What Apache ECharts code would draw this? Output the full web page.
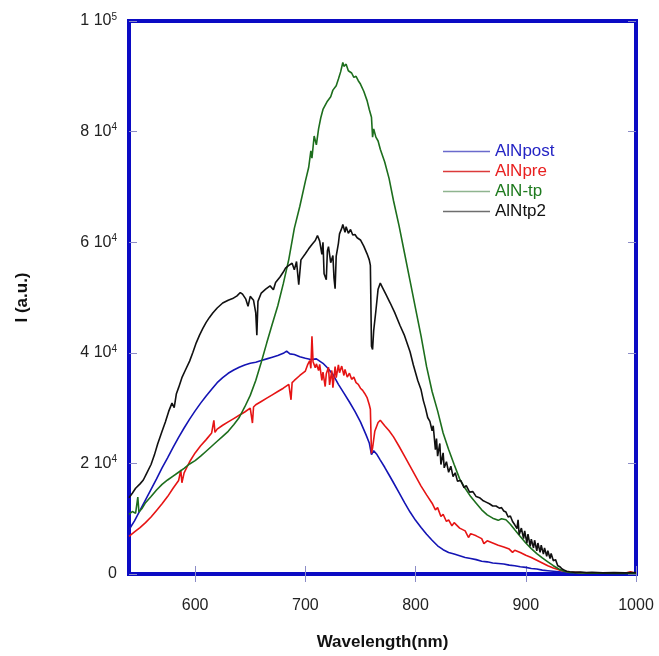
<!DOCTYPE html>
<html>
<head>
<meta charset="utf-8">
<script src="https://cdn.jsdelivr.net/npm/echarts@6/dist/echarts.min.js"></script>
<style>
html,body{margin:0;padding:0;background:#fff;}
#chart{width:659px;height:656px;}
</style>
</head>
<body>
<div id="chart"></div>
<script>
// ---- data (wavelength nm, intensity a.u.) ----
const alnPost = [[540,8000],[545,9600],[550,11500],[555,13400],[560,15300],[565,17200],[570,19200],[575,21000],[580,22900],[585,24700],[590,26400],[595,28000],[600,29500],[605,30900],[610,32200],[615,33400],[620,34600],[625,35500],[630,36300],[635,36900],[640,37400],[645,37800],[650,38100],[655,38300],[660,38600],[665,38900],[670,39200],[675,39500],[680,39900],[683,40300],[686,39800],[690,39700],[695,39300],[700,39000],[705,38800],[710,38900],[713,38500],[716,38100],[720,37300],[725,36100],[730,34300],[735,32700],[740,31100],[745,29400],[750,27500],[755,25200],[758,23700],[760,21600],[762,22300],[765,21600],[768,20600],[772,19300],[776,17900],[780,16500],[785,14700],[790,12900],[795,11200],[800,9700],[805,8400],[810,7200],[815,6100],[820,5100],[825,4400],[830,3900],[835,3600],[840,3300],[845,3000],[850,2800],[855,2600],[860,2300],[865,2200],[870,2000],[875,1900],[880,1800],[885,1600],[890,1500],[895,1300],[900,1200],[905,1000],[910,900],[915,700],[920,600],[925,500],[930,400],[935,300],[940,250],[950,200],[960,150],[970,150],[980,120],[990,100],[1000,100]];

const alnPre = [[540,6800],[545,7600],[550,8400],[555,9300],[560,10300],[565,11500],[570,12700],[575,14000],[580,15500],[585,16900],[587,18800],[588,16500],[590,18300],[595,20300],[600,21900],[605,23200],[610,24300],[615,25500],[617,27800],[618,25600],[620,26200],[625,26900],[630,27500],[635,28100],[640,28700],[645,29300],[650,30000],[652,27300],[653,30200],[655,30600],[660,31200],[665,31800],[670,32400],[675,33000],[680,33600],[685,34300],[687,31500],[688,34600],[690,35000],[695,35900],[700,36700],[702,37800],[704,38600],[705,37200],[706,43000],[707,38400],[709,37300],[710,38000],[712,36800],[713,37900],[715,35000],[716,36500],[718,33900],[719,36200],[721,37400],[722,34200],[724,36800],[725,33700],[727,37500],[728,35500],[730,37800],[731,36400],[733,37600],[735,35900],[736,37000],[738,35600],[740,36300],[742,35200],[744,35600],[746,34600],[748,34300],[750,33600],[752,33200],[754,32600],[756,31900],[758,30600],[759,29800],[760,21800],[761,22800],[763,25800],[766,27400],[768,27800],[772,26800],[776,25900],[780,24800],[785,23100],[790,21300],[795,19500],[800,17700],[805,15900],[810,14300],[815,12800],[818,11600],[820,12000],[823,10400],[825,10800],[828,9500],[830,9800],[833,8700],[835,9300],[840,8300],[845,7800],[848,6600],[850,7300],[855,6900],[860,6400],[862,5500],[865,6000],[870,5600],[875,5200],[880,4900],[885,4500],[888,3900],[890,4300],[895,3900],[900,3400],[905,3000],[910,2500],[915,2000],[920,1500],[925,1100],[930,750],[935,500],[940,350],[950,250],[960,200],[970,200],[980,150],[990,150],[995,400],[996,150],[1000,100]];

const alnTp = [[540,10800],[543,11300],[546,11000],[548,13900],[549,11200],[552,11900],[555,12900],[560,14000],[565,15200],[570,16200],[575,17000],[580,17700],[585,18400],[590,19100],[595,19900],[600,20500],[605,21300],[610,22200],[615,23100],[620,24000],[625,24900],[630,25800],[635,27000],[640,28300],[645,30200],[650,32300],[655,35000],[660,38300],[665,41800],[670,45200],[675,48500],[680,52500],[685,56900],[690,62500],[695,66500],[700,71000],[703,73500],[705,76500],[706,75200],[708,79200],[710,77600],[712,80500],[714,82500],[716,84000],[720,85500],[723,86300],[725,87500],[728,88300],[730,89500],[732,90800],[734,92500],[735,91800],[737,92200],[739,91000],[742,90600],[744,89800],[746,90000],[748,89200],[750,88600],[753,87300],[756,85600],[758,84000],[760,82600],[761,79000],[762,80500],[764,79000],[766,78300],[768,76800],[772,74500],[776,71500],[780,67500],[785,63000],[790,58000],[795,53000],[800,48000],[805,43000],[810,37500],[815,33000],[820,29500],[825,25500],[830,22500],[835,19800],[840,17200],[845,15500],[850,14000],[855,12800],[860,11600],[865,10700],[870,10100],[875,9700],[878,10000],[882,9800],[886,9000],[890,8000],[895,6800],[900,5600],[905,4600],[910,3700],[915,2900],[920,2200],[925,1500],[930,900],[935,500],[940,300],[950,200],[960,150],[970,150],[980,100],[990,100],[1000,100]];

const alnTp2 = [[540,13800],[543,14600],[546,15500],[550,16300],[553,17000],[556,18200],[560,19800],[563,21500],[566,23500],[570,25800],[573,27500],[576,29400],[579,30900],[581,30100],[583,32600],[585,33700],[588,35500],[591,36800],[595,38500],[598,40100],[601,41800],[604,43200],[607,44400],[610,45500],[613,46400],[616,47200],[620,48100],[625,49000],[630,49500],[634,49800],[638,50300],[641,50900],[643,50600],[646,49700],[648,48400],[650,50200],[653,49500],[655,47200],[656,43200],[657,49300],[660,50800],[664,51500],[668,52100],[671,51400],[673,52700],[677,53700],[680,54600],[682,55300],[685,55800],[688,56200],[690,55000],[692,56500],[694,52300],[696,56800],[700,57900],[703,58800],[706,59600],[709,60300],[711,61200],[713,60200],[715,57800],[716,60000],[717,54300],[719,53200],[720,58400],[721,59200],[723,56300],[725,57600],[726,53500],[727,51600],[728,57500],[730,59800],[731,61500],[733,62500],[734,63200],[736,61800],[737,62800],[739,61600],[741,62300],[743,61300],[745,61400],[747,60800],[750,60400],[753,59300],[756,57900],[758,56800],[759,55800],[760,41200],[761,40600],[762,44000],[764,47600],[766,51500],[768,52600],[770,51800],[773,50600],[777,49000],[781,47300],[786,44900],[790,43100],[795,40200],[798,37800],[802,35000],[805,33300],[807,31400],[809,30000],[811,28300],[813,27600],[815,25900],[816,26800],[818,22500],[819,24500],[820,21300],[822,23600],[823,19800],[825,21900],[826,19200],[828,20300],[830,18400],[832,19500],[834,17600],[836,18300],[838,16800],[841,16900],[844,15600],[846,16000],[849,14800],[852,14900],[855,14000],[858,13800],[861,13300],[864,13000],[867,12700],[870,12300],[873,12300],[876,11900],[878,12000],[880,11400],[882,11200],[884,10300],[886,10500],[888,9500],[890,8900],[892,8200],[893,9800],[894,7100],[896,8300],[898,6400],[899,7800],[901,5600],[902,7200],[904,5000],[905,6300],[907,4700],[908,6100],[910,4200],[911,5600],[913,3900],[914,5200],[916,3600],[917,4700],[919,3200],[920,4200],[922,2800],[923,3700],[925,2400],[927,2600],[929,1500],[931,1300],[933,900],[935,700],[937,500],[940,400],[945,300],[950,350],[955,250],[960,300],[970,200],[980,250],[990,200],[1000,250]];

const seriesNames = ['AlNpost','AlNpre','AlN-tp','AlNtp2'];
const xTicks = [600,700,800,900,1000];
const yTickValues = [0,20000,40000,60000,80000,100000];
const yTickMant = ['0','2','4','6','8','1'];
const yTickExp = ['','4','4','4','4','5'];

// ---- styling ----
const FONT = '"Liberation Sans", Arial, Helvetica, sans-serif';
const lineColors = ['#1414b4','#e61414','#1d6e1d','#111111'];
const legendLineColors = ['#6a6acc','#dc3a3a','#8fb48f','#6e6e6e'];
const legendTextColors = ['#2424c4','#e82020','#1e7a1e','#111111'];
const seriesData = [alnPost, alnPre, alnTp, alnTp2];
const tickStyle = {show:true, inside:true, length:8, lineStyle:{color:'#8c8cc8', width:1}};

const chart = echarts.init(document.getElementById('chart'), null, {renderer:'canvas'});
const option = {
  animation:false,
  backgroundColor:'#ffffff',
  textStyle:{fontFamily:FONT},
  grid:{left:129, right:23, top:21, bottom:73, show:true, borderColor:'#0b0bc4', borderWidth:4, backgroundColor:'transparent'},
  legend:{
    orient:'vertical', left:438, top:138, icon:'rect', itemWidth:47, itemHeight:1.5, itemGap:3,
    textStyle:{fontFamily:FONT, fontSize:17},
    data:seriesNames.map((n,i)=>({name:n, itemStyle:{color:legendLineColors[i]}, textStyle:{color:legendTextColors[i], fontSize:17, fontFamily:FONT}}))
  },
  xAxis:[{
    type:'value', min:540, max:1000, position:'bottom',
    name:'Wavelength(nm)', nameLocation:'middle', nameGap:60,
    nameTextStyle:{fontFamily:FONT, fontSize:17, fontWeight:'bold', color:'#111'},
    axisLine:{show:false}, splitLine:{show:false},
    axisTick:Object.assign({customValues:xTicks}, tickStyle),
    axisLabel:{customValues:xTicks, fontFamily:FONT, fontSize:16, color:'#222', margin:24,
      formatter:function(v){ return String(v); }}
  },{
    type:'value', min:540, max:1000, position:'top',
    axisLine:{show:false}, splitLine:{show:false},
    axisTick:Object.assign({customValues:xTicks}, tickStyle),
    axisLabel:{show:false}
  }],
  yAxis:[{
    type:'value', min:0, max:100000, interval:20000, position:'left',
    name:'I (a.u.)', nameLocation:'middle', nameGap:98, nameRotate:90,
    nameTextStyle:{fontFamily:FONT, fontSize:17, fontWeight:'bold', color:'#111'},
    axisLine:{show:false}, splitLine:{show:false},
    axisTick:tickStyle,
    axisLabel:{
      margin:12, color:'#222',
      formatter:function(v){
        const i = yTickValues.indexOf(v);
        if (i < 0) return '';
        return yTickExp[i] ? '{a|' + yTickMant[i] + ' 10}{s|' + yTickExp[i] + '}' : '{a|' + yTickMant[i] + '}';
      },
      rich:{
        a:{fontFamily:FONT, fontSize:16, lineHeight:18, color:'#222', verticalAlign:'middle'},
        s:{fontFamily:FONT, fontSize:10, lineHeight:10, color:'#222', verticalAlign:'top'}
      }
    }
  },{
    type:'value', min:0, max:100000, interval:20000, position:'right',
    axisLine:{show:false}, splitLine:{show:false},
    axisTick:tickStyle, axisLabel:{show:false}
  }],
  series:seriesNames.map((n,i)=>({
    name:n, type:'line', xAxisIndex:0, yAxisIndex:0, data:seriesData[i],
    showSymbol:false, symbol:'none', smooth:false, sampling:null,
    lineStyle:{color:lineColors[i], width:1.6},
    itemStyle:{color:lineColors[i]},
    emphasis:{disabled:true}
  }))
};
chart.setOption(option);
</script>
</body>
</html>
